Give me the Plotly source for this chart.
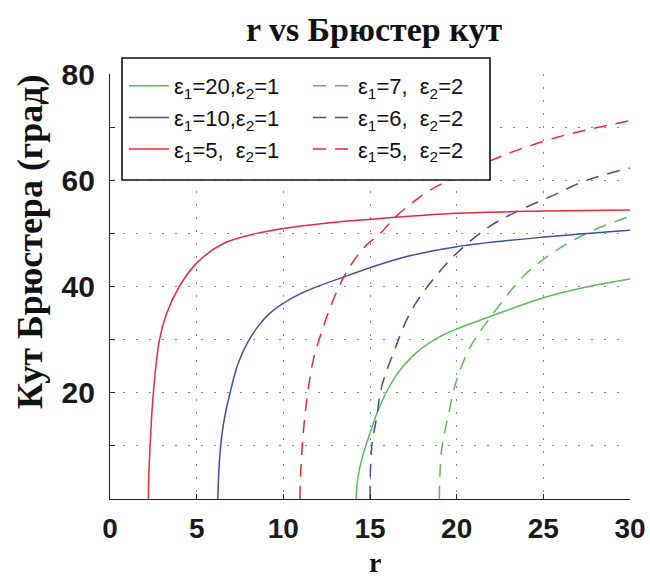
import plotly.graph_objects as go

# ---- data ----
# eps1=20, eps2=1 (green, solid)
r_g1 = [14.2, 14.3, 14.55, 15.0, 15.58, 16.54, 17.7, 19.0, 20.0, 21.9, 25.0, 27.5, 30.0]
t_g1 = [0.0, 4.0, 7.8, 12.4, 17.6, 23.4, 27.6, 30.5, 32.0, 34.3, 37.9, 39.9, 41.4]
# eps1=7, eps2=2 (green, dashed)
r_g2 = [19.0, 19.13, 19.5, 20.0, 20.8, 21.9, 24.0, 26.0, 27.9, 30.0]
t_g2 = [0.0, 9.2, 15.5, 22.4, 28.7, 34.0, 42.4, 47.3, 50.6, 53.2]
# eps1=10, eps2=1 (blue, solid)
r_b1 = [6.22, 6.27, 6.35, 6.55, 6.92, 7.4, 7.98, 8.5, 9.23, 10.96, 13.66, 15.6, 17.3, 20.0, 25.0, 30.0]
t_b1 = [0.0, 4.5, 8.8, 14.2, 19.9, 25.6, 29.7, 32.3, 35.0, 38.6, 42.0, 44.2, 45.8, 47.5, 49.3, 50.6]
# eps1=6, eps2=2 (blue, dashed)
r_b2 = [15.0, 15.1, 15.38, 15.67, 16.34, 17.3, 18.46, 20.0, 21.9, 23.66, 25.6, 27.5, 30.0]
t_b2 = [0.0, 9.8, 15.3, 21.1, 27.4, 34.95, 40.6, 46.25, 51.3, 54.4, 57.2, 60.0, 62.3]
# eps1=5, eps2=1 (red, solid)
r_r1 = [2.21, 2.24, 2.31, 2.5, 2.85, 3.27, 4.0, 5.0, 6.54, 8.46, 10.8, 12.7, 15.6, 20.0, 25.0, 30.0]
t_r1 = [0.0, 4.5, 9.85, 19.9, 29.9, 34.95, 40.0, 44.4, 48.1, 50.0, 51.3, 52.0, 52.8, 53.8, 54.2, 54.4]
# eps1=5, eps2=2 (red, dashed)
r_r2 = [10.95, 11.0, 11.15, 11.38, 11.73, 12.31, 12.88, 13.66, 14.7, 15.6, 16.5, 18.3, 20.0, 21.9, 23.7, 25.8, 27.8, 30.0]
t_r2 = [0.0, 4.8, 12.4, 19.3, 26.2, 32.4, 37.5, 42.8, 47.5, 50.0, 53.2, 57.8, 60.7, 63.6, 65.9, 68.1, 69.7, 71.2]

labels = [
    "ε<sub>1</sub>=20,ε<sub>2</sub>=1",
    "ε<sub>1</sub>=7,\u00a0\u00a0ε<sub>2</sub>=2",
    "ε<sub>1</sub>=10,ε<sub>2</sub>=1",
    "ε<sub>1</sub>=6,\u00a0\u00a0ε<sub>2</sub>=2",
    "ε<sub>1</sub>=5,\u00a0\u00a0ε<sub>2</sub>=1",
    "ε<sub>1</sub>=5,\u00a0\u00a0ε<sub>2</sub>=2",
]
x_ticks = [0, 5, 10, 15, 20, 25, 30]
y_ticks = [20, 40, 60, 80]

GREEN = "#5cb85a"
BLUE = "#3d4f9f"
RED = "#e8283c"
DASH = "13px,9px"

series = [
    (r_g1, t_g1, GREEN, "solid", "legend"),
    (r_g2, t_g2, GREEN, DASH, "legend2"),
    (r_b1, t_b1, BLUE, "solid", "legend"),
    (r_b2, t_b2, BLUE, DASH, "legend2"),
    (r_r1, t_r1, RED, "solid", "legend"),
    (r_r2, t_r2, RED, DASH, "legend2"),
]

fig = go.Figure()
for i, ((xs, ys, col, dash, leg), name) in enumerate(zip(series, labels)):
    fig.add_trace(go.Scatter(
        x=xs, y=ys, mode="lines", name=name, legend=leg, legendgroup=f"g{i}",
        line=dict(color=col, width=1.5, dash=dash, shape="spline", smoothing=1.0),
    ))

grid = dict(gridcolor="#8a8a8a", gridwidth=1, griddash="2px,11px")
leg_common = dict(
    orientation="v", yanchor="top", xanchor="left", y=(499 - 65) / 425,
    bgcolor="rgba(0,0,0,0)", borderwidth=0, tracegroupgap=4,
    font=dict(family="Liberation Sans", size=22, color="#111"),
    itemwidth=40, traceorder="normal",
)

fig.update_layout(
    width=650, height=576,
    margin=dict(l=110, r=20, t=74, b=77),
    paper_bgcolor="white", plot_bgcolor="white",
    showlegend=True,
    title=dict(text="<b>r vs Брюстер кут</b>", x=374 / 650, xanchor="center",
               y=1 - 29 / 576, yanchor="middle",
               font=dict(family="Liberation Serif", size=34, color="#111")),
    legend=dict(x=(124 - 110) / 520, **leg_common),
    legend2=dict(x=(308 - 110) / 520, **leg_common),
    xaxis=dict(
        range=[0, 30], tickvals=x_ticks, showgrid=True, **grid,
        zeroline=False, showline=True, linecolor="#222", linewidth=1.2,
        ticks="inside", ticklen=5, tickcolor="#222", automargin=False,
        tickfont=dict(family="Liberation Sans", size=28, color="#1a1a1a", weight="bold"),
        ticklabelstandoff=4,
    ),
    yaxis=dict(
        range=[0, 80], tickvals=y_ticks, showgrid=True, **grid,
        zeroline=False, showline=True, linecolor="#222", linewidth=1.2,
        ticks="inside", ticklen=5, tickcolor="#222", automargin=False,
        tickfont=dict(family="Liberation Sans", size=30, color="#1a1a1a", weight="bold"),
        ticklabelstandoff=8,
        minor=dict(dtick=10, tick0=0, showgrid=True, ticks="inside", ticklen=5,
                   tickcolor="#222", **grid),
    ),
    shapes=[dict(
        type="rect", xref="paper", yref="paper", layer="above",
        x0=(122 - 110) / 520, x1=(490 - 110) / 520,
        y0=(499 - 180) / 425, y1=(499 - 58) / 425,
        fillcolor="white", line=dict(color="#111", width=1.6),
    )],
    annotations=[
        dict(
            text="<b>Кут Брюстера (град)</b>", textangle=-90,
            xref="paper", yref="paper", x=-80 / 520, y=(499 - 242) / 425,
            xanchor="center", yanchor="middle", showarrow=False,
            font=dict(family="Liberation Serif", size=36, color="#111"),
        ),
        dict(
            text="<b>r</b>", xref="paper", yref="paper",
            x=(375 - 110) / 520, y=(499 - 562) / 425,
            xanchor="center", yanchor="middle", showarrow=False,
            height=22, valign="middle",
            font=dict(family="Liberation Serif", size=28, color="#111"),
        ),
    ],
)

fig.write_html("out.html")
